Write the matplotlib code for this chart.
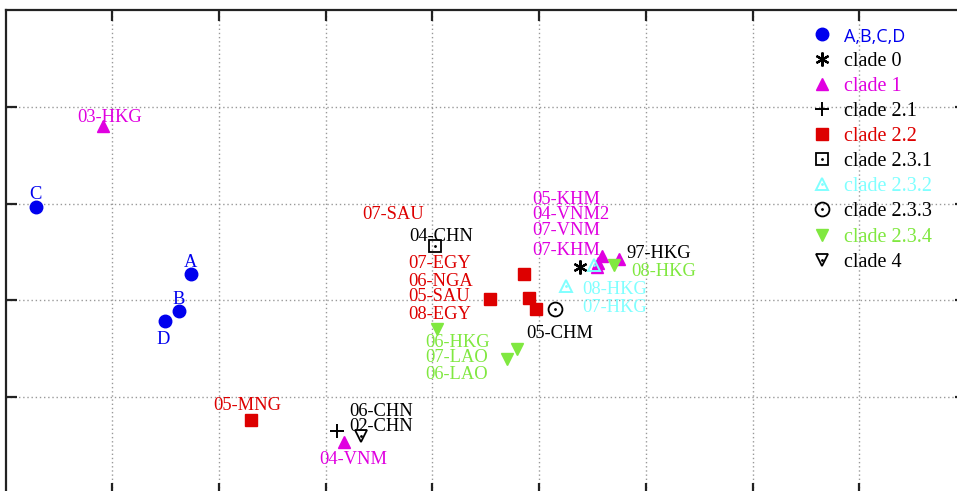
import matplotlib
matplotlib.use("Agg")
import matplotlib.pyplot as plt

plt.rcParams['font.family'] = ['Liberation Serif', 'DejaVu Serif']

# coordinates of the antigenic map (grid units)
abcd_x = [1.738, 1.626, 0.286, 1.495]
abcd_y = [2.273, 1.890, 2.965, 1.787]

c0_x = [5.384]
c0_y = [2.345]
c1_x = [0.914, 3.175, 5.590, 5.553, 5.544, 5.750]
c1_y = [3.802, 0.537, 2.459, 2.386, 2.345, 2.428]
c21_x = [3.104]
c21_y = [0.654]
c22_x = [2.301, 4.541, 4.858, 4.906, 4.972]
c22_y = [0.764, 2.011, 2.273, 2.022, 1.908]
c231_x = [4.025]
c231_y = [2.562]
c232_x = [5.250, 5.518]
c232_y = [2.149, 2.366]
c233_x = [5.150]
c233_y = [1.914]
c234_x = [4.047, 4.791, 4.697, 5.703]
c234_y = [1.701, 1.495, 1.395, 2.366]
c4_x = [3.332]
c4_y = [0.599]

blue = '#0000ee'
magenta = '#e000e0'
red = '#dd0000'
cyan = '#80ffff'
green = '#80e840'
black = 'black'

# strain labels: text, x, y, colour, alignment
labels = [
    ('A', 1.738, 2.417, blue, 'center'),
    ('B', 1.626, 2.035, blue, 'center'),
    ('C', 0.276, 3.110, blue, 'center'),
    ('D', 1.476, 1.612, blue, 'center'),
    ('03-HKG', 0.979, 3.905, magenta, 'center'),
    ('05-MNG', 2.263, 0.930, red, 'center'),
    ('06-CHN', 3.219, 0.878, black, 'left'),
    ('02-CHN', 3.219, 0.723, black, 'left'),
    ('04-VNM', 3.257, 0.382, magenta, 'center'),
    ('04-CHN', 3.782, 2.676, black, 'left'),
    ('07-SAU', 3.922, 2.903, red, 'right'),
    ('07-EGY', 3.772, 2.397, red, 'left'),
    ('06-NGA', 3.772, 2.221, red, 'left'),
    ('05-SAU', 3.772, 2.056, red, 'left'),
    ('08-EGY', 3.772, 1.870, red, 'left'),
    ('06-HKG', 3.931, 1.581, green, 'left'),
    ('07-LAO', 3.931, 1.426, green, 'left'),
    ('06-LAO', 3.931, 1.260, green, 'left'),
    ('05-CHM', 4.878, 1.674, black, 'left'),
    ('08-HKG', 5.403, 2.138, cyan, 'left'),
    ('07-HKG', 5.403, 1.952, cyan, 'left'),
    ('05-KHM', 4.934, 3.068, magenta, 'left'),
    ('04-VNM2', 4.934, 2.903, magenta, 'left'),
    ('07-VNM', 4.934, 2.738, magenta, 'left'),
    ('07-KHM', 4.934, 2.541, magenta, 'left'),
    ('97-HKG', 5.815, 2.500, black, 'left'),
    ('08-HKG', 5.862, 2.324, green, 'left'),
]

fig = plt.figure(figsize=(9.57, 4.91), dpi=100)
ax = fig.add_axes([5.5/957, -3/491, 960.5/957, 484/491])
ax.set_xlim(0, 9)
ax.set_ylim(0, 5)
ax.set_xticks(range(1, 9))
ax.set_yticks(range(1, 5))
ax.grid(True, color='#999999', linestyle=(0, (1, 2)), linewidth=1)
ax.set_axisbelow(True)
ax.tick_params(direction='in', length=8, width=1.6, color='#222222',
               top=True, right=True, labelbottom=False, labelleft=False)
for s in ax.spines.values():
    s.set_linewidth(1.6)
    s.set_color('#222222')

ms = 9
h_abcd, = ax.plot(abcd_x, abcd_y, 'o', color=blue, ms=ms, ls='none')
h0, = ax.plot(c0_x, c0_y, marker=(6, 2, 0), color=black, ms=ms + 1, mew=1.6, ls='none')
h1, = ax.plot(c1_x, c1_y, '^', color=magenta, ms=ms, ls='none')
h21, = ax.plot(c21_x, c21_y, '+', color=black, ms=ms + 1, mew=1.4, ls='none')
h22, = ax.plot(c22_x, c22_y, 's', color=red, ms=ms, ls='none')
h231, = ax.plot(c231_x, c231_y, 's', color=black, mfc='none', ms=ms, mew=1.3, ls='none')
d231, = ax.plot(c231_x, c231_y, '.', color=black, ms=2, ls='none')
h232, = ax.plot(c232_x, c232_y, '^', color=cyan, mfc='none', ms=ms, mew=1.4, ls='none')
d232, = ax.plot(c232_x, c232_y, '.', color=cyan, ms=2, ls='none')
h233, = ax.plot(c233_x, c233_y, 'o', color=black, mfc='none', ms=ms + 1, mew=1.3, ls='none')
d233, = ax.plot(c233_x, c233_y, '.', color=black, ms=2, ls='none')
h234, = ax.plot(c234_x, c234_y, 'v', color=green, ms=ms, ls='none')
h4, = ax.plot(c4_x, c4_y, 'v', color=black, mfc='none', ms=ms, mew=1.3, ls='none')
d4, = ax.plot(c4_x, c4_y, '.', color=black, ms=2, ls='none')

for txt, x, y, col, ha in labels:
    ax.text(x, y, txt, color=col, ha=ha, va='center_baseline', fontsize=13.3)

handles = [h_abcd, h0, h1, h21, h22, (h231, d231), (h232, d232), (h233, d233), h234, (h4, d4)]
names = ['A,B,C,D', 'clade 0', 'clade 1', 'clade 2.1', 'clade 2.2', 'clade 2.3.1',
         'clade 2.3.2', 'clade 2.3.3', 'clade 2.3.4', 'clade 4']
colors = [blue, black, magenta, black, red, black, cyan, black, green, black]
leg = ax.legend(handles, names, loc='upper left', bbox_to_anchor=(0.841, 0.964),
                frameon=False, fontsize=14.5, numpoints=1, handlelength=0.9,
                handletextpad=0.65, labelspacing=0.3, borderpad=0, borderaxespad=0)
for t, c in zip(leg.get_texts(), colors):
    t.set_color(c)
leg.get_texts()[0].set_family(['Open Sans', 'DejaVu Sans'])
leg.get_texts()[0].set_fontsize(13)

fig.savefig('out.png', dpi=100)
